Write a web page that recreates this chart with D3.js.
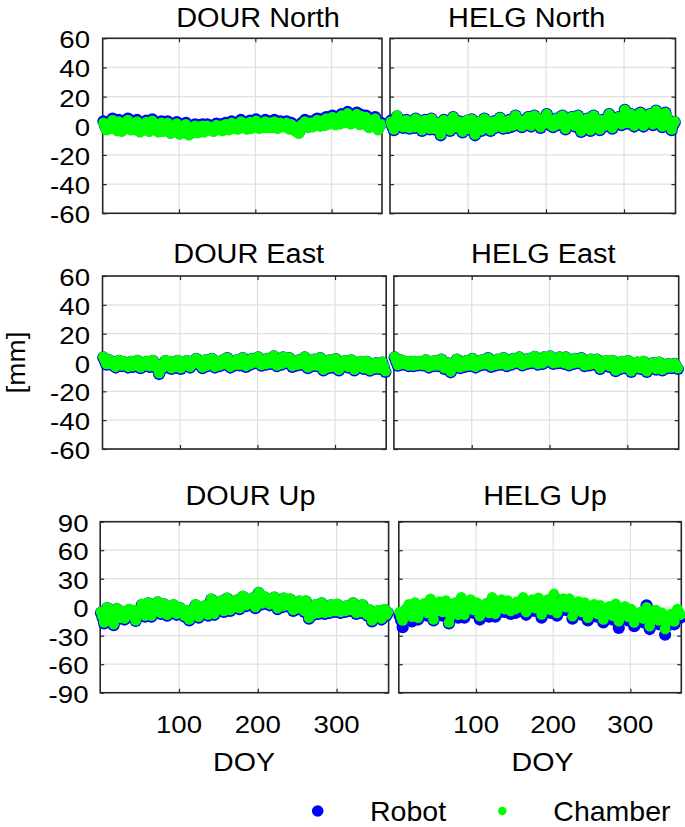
<!DOCTYPE html>
<html><head><meta charset="utf-8">
<script src="https://cdn.jsdelivr.net/npm/d3@7"></script>
<style>
body{margin:0;background:#fff}
svg{display:block}
text{font-family:"Liberation Sans",Arial,Helvetica,sans-serif;fill:#000}
</style>
</head><body>
<svg id="c" width="685" height="827"></svg>
<script>
// ---------------- DATA ----------------
const doy = [1,3,5,7,9,11,13,15,17,19, 21,23,25,27,29,31,33,35,37,39, 41,43,45,47,49,51,53,55,57,59, 61,63,65,67,69,71,73,75,77,79, 81,83,85,87,89,91,93,95,97,99, 101,103,105,107,109,111,113,115,117,119, 121,123,125,127,129,131,133,135,137,139, 141,143,145,147,149,151,153,155,157,159, 161,163,165,167,169,171,173,175,177,179, 181,183,185,187,189,191,193,195,197,199, 201,203,205,207,209,211,213,215,217,219, 221,223,225,227,229,231,233,235,237,239, 241,243,245,247,249,251,253,255,257,259, 261,263,265,267,269,271,273,275,277,279, 281,283,285,287,289,291,293,295,297,299, 301,303,305,307,309,311,313,315,317,319, 321,323,325,327,329,331,333,335,337,339, 341,343,345,347,349,351,353,355,357,359, 361,363,365];

const stations = ["DOUR","HELG"];
const components = ["North","East","Up"];
const seriesNames = ["Robot","Chamber"];
const xTicks = [100,200,300];
const yTicksNE = [-60,-40,-20,0,20,40,60];
const yTicksUp = [-90,-60,-30,0,30,60,90];

const dourNorthChamber = [
2,-1,-3,1,0,-2,4,1,-2,-3.5,3,0,-4,-2,1,2.5,4,0,-3,-1.5,
0,-3,3,0,-4.5,-2,-1,-3,2.5,0,-4,-1.5,3.5,2,0,-2.5,-4.5,-1,2,-4,
-2,0,2,-1.5,-5.5,-3,-1,-4,1.5,-2,-6,-3,0,-4,1,-2.5,-6.5,-4,-2,-5,
0,-2.5,-5,-0.5,-2,0,-4.5,-2.5,0,-3,-1,-2,-4,-1.5,0.5,-3,-2,0,-3.5,-1.5,
1,-1,-3,-0.5,2,-2,-1,1,-2.5,0,3,-1.5,0,1.5,-2.5,-0.5,2.5,-2,-1,1,
3.5,0.5,-2,-0.5,1,-1.5,3,1,-1.5,2,0,-1.5,3,0.5,-2,0,2,-0.5,-1,0.5,
2,0,-2.5,1,0,-2,-4,-1,-5.5,-3,1,-1,3,0.5,-1.5,1,2,-1,0,2,
4,1.5,-0.5,3.5,2,0,5,3,1,3,6,2.5,0.5,5,3,1,7,4,2,5,
8.5,4,1,3,5,2,8,4,0.5,6.5,4,2,6,2,-1.5,1,3,0,5,-1,
-3,-1,1];
const dourNorthRobot = [
3,0,-2,2,1,-1,5,2,-1,-2.5,4,1,-3,-1,2,3.5,5,1,-2,-0.5,
1,-2,4,1,-3.5,-1,0,-2,3.5,1,-3,-0.5,4.5,3,1,-1.5,-3.5,0,3,-3,
-1,1,3,-0.5,-4.5,-2,0,-3,2.5,-1,-5,-2,1,-3,2,-1.5,-5.5,-3,-1,-4,
1,-1.5,-4,0.5,-1,1,-3.5,-1.5,1,-2,0,-1,-3,-0.5,1.5,-2,-1,1,-2.5,-0.5,
2,0,-2,0.5,3,-1,0,2,-1.5,1,4,-0.5,1,2.5,-1.5,0.5,3.5,-1,0,2,
4.5,1.5,-1,0.5,2,-0.5,4,2,-0.5,3,1,-0.5,4,1.5,-1,1,3,0.5,0,1.5,
3,1,-1.5,2,1,-1,-3,0,-4.5,-2,2,0,4,1.5,-0.5,2,3,0,1,3,
5,2.5,0.5,4.5,3,1,6,4,2,4,7,3.5,1.5,6,4,2,8,5,3,6,
9.5,5,2,4,6,3,9,5,1.5,7.5,5,3,7,3,-0.5,2,4,1,6,0,
-2,0,2];

const helgNorthChamber = [
3,0,-2.5,2,7,4,1,3,-1,1.5,4,1,-1.5,0,2,-1,5,2,0,3,
-3,0,4,-1,1,-2,5,2,-2,0,2,-2,-6,-1,4,1,0,2,-3,1,
6,2,-1,1,3,0,-4,-1,2,4,-2,1,4.5,0,-6,-2,1,3,-3,0,
5,2,0,3,-3,0,3,-1,1,3,5.5,2,-1.5,1,2,-1,4,1.5,0,3,
7,4,1,3.5,-0.5,2,4,1,6,3,0,4,7,4,2,5,-1,2,5,2,
8,4,1,3,-0.5,2,5,1,3,5,7,3,-2,1,2,4,6,3,0,4,
7,2,-3.7,-1,1,-1,5,1,-3,1,7,3,0,4,-2.5,1,4,0,2,5,
8,3,-1.5,1,3,2,6,3.5,1,6,11,6,2,5,8,4,0,3,5,7,
9,4,0,2,4,6,8,4,1,5,10.5,6,3,7,-0.5,5,9,6,4,1,
-2.5,1,3];
const helgNorthRobot = [
3.5,-0.5,-3,1.5,6.5,3.5,0.5,2.5,-1.5,1,4,0.5,-2,-0.5,1.5,-1.5,5,1.5,-0.5,2.5,
-3.5,-0.5,4,-1.5,0.5,-2.5,5,1.5,-2.5,-0.5,2,-2.5,-6.5,-1.5,4,0.5,-0.5,1.5,-3.5,0.5,
6,1.5,-1.5,0.5,3,-0.5,-4.5,-1.5,1.5,3.5,-2.5,0.5,4.5,-0.5,-6.5,-2.5,0.5,2.5,-3.5,-0.5,
5,1.5,-0.5,2.5,-3.5,-0.5,3,-1.5,0.5,2.5,5.5,1.5,-2,0.5,1.5,-1.5,4,1,-0.5,2.5,
7,3.5,0.5,3,-1,1.5,4,0.5,6,2.5,-0.5,3.5,7,3.5,1.5,4.5,-1.5,1.5,5,1.5,
8,3.5,0.5,2.5,-1,1.5,5,0.5,2.5,4.5,7,2.5,-2.5,0.5,1.5,3.5,6,2.5,-0.5,3.5,
7,1.5,-4.2,-1.5,0.5,-1.5,5,0.5,-3.5,0.5,7,2.5,-0.5,3.5,-3,0.5,4,-0.5,1.5,4.5,
8,2.5,-2,0.5,2.5,1.5,6,3,0.5,5.5,11,5.5,1.5,4.5,8,3.5,-0.5,2.5,5,6.5,
9,3.5,-0.5,1.5,4,5.5,8,3.5,0.5,4.5,10.5,5.5,2.5,6.5,-1,4.5,9,5.5,3.5,0.5,
-3,0.5,2.5];

const dourEastChamber = [
4,1.5,-1,2,2,-1,0.5,-1.5,-3,0,1.7,-0.5,-2,1,0,-1.5,-3,-1,1,-2.5,
-1.5,0.5,1.7,-1.5,-3.5,-1,0,-2,1,-1,-2.5,0,1.7,-2.5,-1,-4,-7.5,-2,-4,-1,
1.5,-0.5,-2,1,-4,-2,0,-3,1.7,-1.5,-4,-2,-1,0.5,1.5,-1,-3,-1.5,0,1.5,
3,1,-1,0.5,-3.5,-1.5,2,-2,0,1.5,3,0,-3,-1,1,-2,-1,1,2.5,-1,
3.3,0.5,-3,-1,0,-1.5,2,0.5,-1.5,1,3.5,0.5,-2.5,-0.5,1,-1,3,1.5,0,2.5,
4,1,-1.7,0,1.5,-1,3,1.5,-0.5,2,4.7,1,-2,0,2,-1,4,1.5,0,2,
3.5,0.5,-2.5,-0.5,1,-1.5,2,0.5,-1,2,4,0.5,-3.5,-1.5,0,-2,2.5,0.5,-2,1,
3.5,-1,-5,-2.5,-1,-3.5,2,-0.5,-3,0,2.8,-1,-5,-2.5,0,-2,1.5,-1,-3,-0.5,
2,-2.5,-5,-3,-1,-2.5,1,-1.5,-4,-2,1,-1.5,-5.2,-3.5,-2,-4,0,-2,-4,-1.5,
0.5,-3,-6];
const dourEastRobot = [
3.5,1,-1.5,1.5,1.5,-1.5,0,-2,-3.5,-0.5,1.2,-1,-2.5,0.5,-0.5,-2,-3.5,-1.5,0.5,-3,
-2,0,1.2,-2,-4,-1.5,-0.5,-2.5,0.5,-1.5,-3,-0.5,1.2,-3,-1.5,-4.5,-8,-2.5,-4.5,-1.5,
1,-1,-2.5,0.5,-4.5,-2.5,-0.5,-3.5,1.2,-2,-4.5,-2.5,-1.5,0,1,-1.5,-3.5,-2,-0.5,1,
2.5,0.5,-1.5,0,-4,-2,1.5,-2.5,-0.5,1,2.5,-0.5,-3.5,-1.5,0.5,-2.5,-1.5,0.5,2,-1.5,
3,0,-3.5,-1.5,-0.5,-2,1.5,0,-2,0.5,3,0,-3,-1,0.5,-1.5,2.5,1,-0.5,2,
3.5,0.5,-2.2,-0.5,1,-1.5,2.5,1,-1,1.5,4.2,0.5,-2.5,-0.5,1.5,-1.5,3.5,1,-0.5,1.5,
3,0,-3,-1,0.5,-2,1.5,0,-1.5,1.5,3.5,0,-4,-2,-0.5,-2.5,2,0,-2.5,0.5,
3,-1.5,-5.5,-3,-1.5,-4,1.5,-1,-3.5,-0.5,2.3,-1.5,-5.5,-3,-0.5,-2.5,1,-1.5,-3.5,-1,
1.5,-3,-5.5,-3.5,-1.5,-3,0.5,-2,-4.5,-2.5,0.5,-2,-5.7,-4,-2.5,-4.5,-0.5,-2.5,-4.5,-2,
0,-3.5,-6.5];

const helgEastChamber = [
4,1,-1.7,1,2,-1,0,1,-1,-2,1,-0.5,-2,1,0,-1.5,1,0,-1.5,0.5,
2,0,-3,1,-0.5,-2,1.5,-0.5,-2,0,2.4,-1.5,-4,-2,0,-3.5,-6.3,-4,-2,0.5,
2.5,-1,-3.5,-1.5,0,-2.5,1.5,0,-2,1,3,0,-3,-1,0.5,-1.5,2,0,-1,1.5,
3.3,0,-2.5,-1,1,-1.5,2.5,0.5,-1,1.5,3.5,0.5,-2,-0.5,1,-1,3,1.5,0,2,
4,1,-1.5,0,1.5,-0.5,3,1,0,2.5,4.5,1.5,-1,0.5,2,-0.5,4,2.5,1,2.5,
4.7,2,-0.5,1,2,0,4,2.5,1,-0.5,4,2,-1.5,0,1.5,-0.5,3,1.5,0,2,
3.3,0.5,-2,-0.5,0.5,-1.5,2.5,0,-1,0.5,2.5,-1.5,-4,-2.5,-1,0,1.5,-1,-2.5,0,
1.7,-2,-5.5,-3.5,-2,-4,1,-1,-3.5,-1.5,1.5,-3,-6,-4,-2,-3.5,0.5,-1.5,-4,-2,
1,-3,-6,-4,-2.5,-1,0,-2,-4.5,-2.5,0.5,-2,-5,-3.5,-2,-3.5,-0.5,-2,-3.5,-1.5,
-0.5,-2.5,-4];
const helgEastRobot = [
3.5,0.5,-2.2,0.5,1.5,-1.5,-0.5,0.5,-1.5,-2.5,0.5,-1,-2.5,0.5,-0.5,-2,0.5,-0.5,-2,0,
1.5,-0.5,-3.5,0.5,-1,-2.5,1,-1,-2.5,-0.5,2,-2,-4.5,-2.5,-0.5,-4,-6.8,-4.5,-2.5,0,
2,-1.5,-4,-2,-0.5,-3,1,-0.5,-2.5,0.5,2.5,-0.5,-3.5,-1.5,0,-2,1.5,-0.5,-1.5,1,
3,-0.5,-3,-1.5,0.5,-2,2,0,-1.5,1,3,0,-2.5,-1,0.5,-1.5,2.5,1,-0.5,1.5,
3.5,0.5,-2,-0.5,1,-1,2.5,0.5,-0.5,2,4,1,-1.5,0,1.5,-1,3.5,2,0.5,2,
4.2,1.5,-1,0.5,1.5,-0.5,3.5,2,0.5,-1,3.5,1.5,-2,-0.5,1,-1,2.5,1,-0.5,1.5,
3,0,-2.5,-1,0,-2,2,-0.5,-1.5,0,2,-2,-4.5,-3,-1.5,-0.5,1,-1.5,-3,-0.5,
1.2,-2.5,-6,-4,-2.5,-4.5,0.5,-1.5,-4,-2,1,-3.5,-6.5,-4.5,-2.5,-4,0,-2,-4.5,-2.5,
0.5,-3.5,-6.5,-4.5,-3,-1.5,-0.5,-2.5,-5,-3,0,-2.5,-5.5,-4,-2.5,-4,-1,-2.5,-4,-2,
-1,-3,-4.5];

const dourUpChamber = [
-5,-10,-16,-7,0,-5,-10,-14,-18,-8,-1,-6,-11,-7,-4,-12,-9,-5,-2,-6,
-8,-3,-14,-8,-3,-6,3.5,-2,-9,-3,5,-4,-9,-4,0,-2,6,1,-6,-1,
4,-2,-8,-4,-2,-5,3,-2,-7,-3,0,-3,-6,-9,-3,-8,-13,-9,-5,-1,
3,-4,-10,-6,-2,-4,2,-3,-8,2,9,1,-7,-2,2,4,7,2,-4,3,
10,4,-3,1,4,0,8,3,-1,5,12,6,2,8,6,4,10,5,0,8,
16,10,4,12,9,10,7,3,5,8,11,4,-1,3,6,1,10,6,2,5,
9,3,-3,1,4,-1,7,3,0,-4,7,0,-11,-6,-2,-7,3,-3,-6,0,
5,-1,-6,-2,-1,-5,3,0,-4,-1,3.5,-1,-5,-2,-1,-4,2,-1,-3,1,
5,0,-6,-3,0,-5,3,-1,-4,-8,-2,-8,-14,-10,-8,-5,-3,-8,-12,-7,
-2,-8,-5];
const dourUpRobot = [
-6,-11,-17,-8,-1,-6,-11,-15,-19,-9,-2,-7,-12,-8,-5,-13,-10,-6,-3,-7,
-9,-4,-14.5,-9,-4,-7,2.5,-3,-10,-4,4,-5,-10,-5,-1,-3,5,0,-7,-2,
3,-3,-9,-5,-3,-6,2,-3,-8,-4,-1,-4,-7,-10,-4,-9,-14,-10,-6,-2,
2,-5,-11,-7,-3,-5,1,-4,-9,1,8,0,-8,-3,1,3,6,1,-5,2,
9,3,-4,0,3,-1,7,2,-2,4,11,5,1,7,5,3,9,4,-1,7,
15,9,3,11,8,9,6,2,4,7,10,3,-2,2,5,0,9,5,1,4,
8,2,-4,0,3,-2,6,2,-1,-5,6,-1,-12,-7,-3,-8,2,-4,-7,-1,
4,-2,-7,-3,-2,-6,2,-1,-5,-2,2.5,-2,-6,-3,-2,-5,1,-2,-4,0,
4,-1,-7,-4,-1,-6,2,-2,-5,-9,-3,-9,-15,-11,-9,-6,-4,-9,-13,-8,
-3,-9,-6];

const helgUpChamber = [
-5,-10,-14,-8,-2,-6,3,-3,-10,-4,5,-2,-11,-5,0,-4,4,-1,-6,2,
8.8,0,-13,-5,2,-2,6,0,-5,1,7,-4,-16,-9,1,-3,5,-2,-8,0,
10.5,2,-8,-2,3,-1,8,2,-3,1,5,-2,-9.4,-4,0,-3,4,-1,-6,3,
10.5,1,-7,-2,2,-1,8,3,-2,2,7,1,-4,0,3,-2,6,3,0,5,
10.5,2,-5,-1,4,0,8,3,-1,5,10,1,-7.7,-3,2,-1,8,3,-3,5,
14,4,-6,-1,4,1,9,4,0,4,9,1,-9.4,-4,1,-2,6,0,-5,1,
5,-3,-11,-6,-2,-5,3,-2,-7,-2,2,-6,-13,-8,-4,-7,1,-4,-9,-2,
3.5,-6,-14.7,-9,-5,-8,1,-4,-10,-6,-2,-8,-16,-11,-7,-9,-5,-8,-12,-4,
0,-10,-20,-14,-8,-12,-3,-9,-14,-10,-6,-14,-23,-16,-12,-9,-7,-10,-15,-9,
-2,-5,-8];
const helgUpRobot = [
-9,-14,-21,-12,-6,-10,0,-7,-15,-8,2,-6,-13,-9,-3,-8,1,-5,-9,-2,
6,-4,-14,-9,-1,-6,3,-4,-9,-3,4,-8,-17,-12,-2,-7,2,-6,-11,-4,
7.5,-2,-11,-6,0,-5,5,-2,-6,-3,2,-6,-13,-8,-3,-7,1,-5,-10,-1,
7.5,-3,-10,-6,-1,-5,5,-1,-5,-2,4,-3,-7,-4,0,-6,3,-1,-4,1,
7.5,-2,-8,-5,1,-4,5,-1,-4,1,7,-3,-11,-7,-1,-5,5,-1,-6,1,
11,0,-9,-5,1,-3,6,0,-3,0,6,-3,-12,-8,-2,-6,3,-4,-8,-3,
2,-7,-14,-10,-5,-9,0,-6,-10,-6,-1,-10,-16,-12,-7,-11,-2,-8,-13,-6,
0,-10,-21.7,-13,-8,-12,-2,-8,-14,-10,-5,-12,-20,-15,-10,-13,-8,-12,-16,-8,
2,-14,-23,-18,-11,-16,-6,-13,-18,-14,-9,-18,-29,-20,-15,-13,-10,-14,-18,-13,
-5,-9,-11];

const panelData = {
  "DOUR North": [dourNorthRobot, dourNorthChamber],
  "HELG North": [helgNorthRobot, helgNorthChamber],
  "DOUR East":  [dourEastRobot,  dourEastChamber],
  "HELG East":  [helgEastRobot,  helgEastChamber],
  "DOUR Up":    [dourUpRobot,    dourUpChamber],
  "HELG Up":    [helgUpRobot,    helgUpChamber]
};

// ---------------- LAYOUT ----------------
const colors = ["#0000ff","#00ff00"];
const markerR = [6.1, 5.3];
const rows = [
  {top:38.3, bottom:213.3, xr:[[102.7,382],[390,675.5]], dom:[-60,60], ticks:yTicksNE, labX:90,
   titleX:[258,526.7], titleY:26.7},
  {top:276, bottom:449, xr:[[102.5,386.2],[393.9,678.7]], dom:[-60,60], ticks:yTicksNE, labX:90,
   titleX:[248.7,543.3], titleY:263.3},
  {top:521.7, bottom:692.7, xr:[[100.2,388.6],[398.8,681.3]], dom:[-90,90], ticks:yTicksUp, labX:88.5,
   titleX:[250.5,545], titleY:505}
];

const svg = d3.select("#c");

function stext(g, x, y, str, size, sx, anchor){
  return g.append("text")
    .attr("transform", `translate(${x},${y}) scale(${sx},1)`)
    .attr("text-anchor", anchor)
    .attr("font-size", size)
    .text(str);
}

rows.forEach((row, ri) => {
  stations.forEach((st, ci) => {
    const name = st + " " + components[ri];
    const x = d3.scaleLinear().domain([0,366]).range(row.xr[ci]);
    const y = d3.scaleLinear().domain(row.dom).range([row.bottom, row.top]);
    const g = svg.append("g");
    const [x0,x1] = x.range();

    g.selectAll(".gx").data(xTicks).join("line")
      .attr("x1", d=>x(d)).attr("x2", d=>x(d))
      .attr("y1", row.top).attr("y2", row.bottom)
      .attr("stroke", "#e0e0e0").attr("stroke-width", 1.2);
    g.selectAll(".gy").data(row.ticks).join("line")
      .attr("x1", x0).attr("x2", x1)
      .attr("y1", d=>y(d)).attr("y2", d=>y(d))
      .attr("stroke", "#e0e0e0").attr("stroke-width", 1.2);

    const tk = 4;
    const axL = d3.axisLeft(y).tickValues(row.ticks).tickSize(-tk).tickFormat("");
    const axR = d3.axisRight(y).tickValues(row.ticks).tickSize(-tk).tickFormat("");
    const axB = d3.axisBottom(x).tickValues(xTicks).tickSize(-tk).tickFormat("");
    const axT = d3.axisTop(x).tickValues(xTicks).tickSize(-tk).tickFormat("");
    [[axL,`translate(${x0},0)`],[axR,`translate(${x1},0)`],[axB,`translate(0,${row.bottom})`],[axT,`translate(0,${row.top})`]]
      .forEach(([ax,tr]) => {
        const a = g.append("g").attr("transform", tr).call(ax);
        a.select(".domain").remove();
        a.selectAll(".tick line").attr("stroke","#262626").attr("stroke-width",1.2);
      });

    g.append("rect").attr("x", x0).attr("y", row.top)
      .attr("width", x1-x0).attr("height", row.bottom-row.top)
      .attr("fill","none").attr("stroke","#262626").attr("stroke-width",1.6);

    if (ci === 0) {
      row.ticks.forEach(t => stext(svg, row.labX, y(t)+10, String(t), 23, 1.2, "end"));
    }
    if (ri === 2) {
      xTicks.forEach(t => stext(svg, x(t), 732.7, String(t), 24, 1.15, "middle"));
      stext(svg, ci===0 ? 244 : 542.5, 770.5, "DOY", 26, 1.1, "middle");
    }

    stext(svg, row.titleX[ci], row.titleY, name, 27, 1.07, "middle");

    panelData[name].forEach((vals, si) => {
      g.append("g").selectAll("circle").data(vals).join("circle")
        .attr("cx", (d,i) => x(doy[i]))
        .attr("cy", d => y(d))
        .attr("r", markerR[si])
        .attr("fill", colors[si]);
    });
  });
});

svg.append("text")
  .attr("transform","translate(25,362.5) rotate(-90) scale(1.07,1)")
  .attr("text-anchor","middle").attr("font-size",26).text("[mm]");

const legendX = [317.7, 502.3];
const legendTextX = [370, 553.3];
const legendR = [5.8, 4.2];
seriesNames.forEach((s,i) => {
  svg.append("circle").attr("cx", legendX[i]).attr("cy", 811).attr("r", legendR[i]).attr("fill", colors[i]);
  svg.append("text").attr("x", legendTextX[i]).attr("y", 820.7).attr("font-size", 28.5).text(s);
});
</script>
</body></html>
